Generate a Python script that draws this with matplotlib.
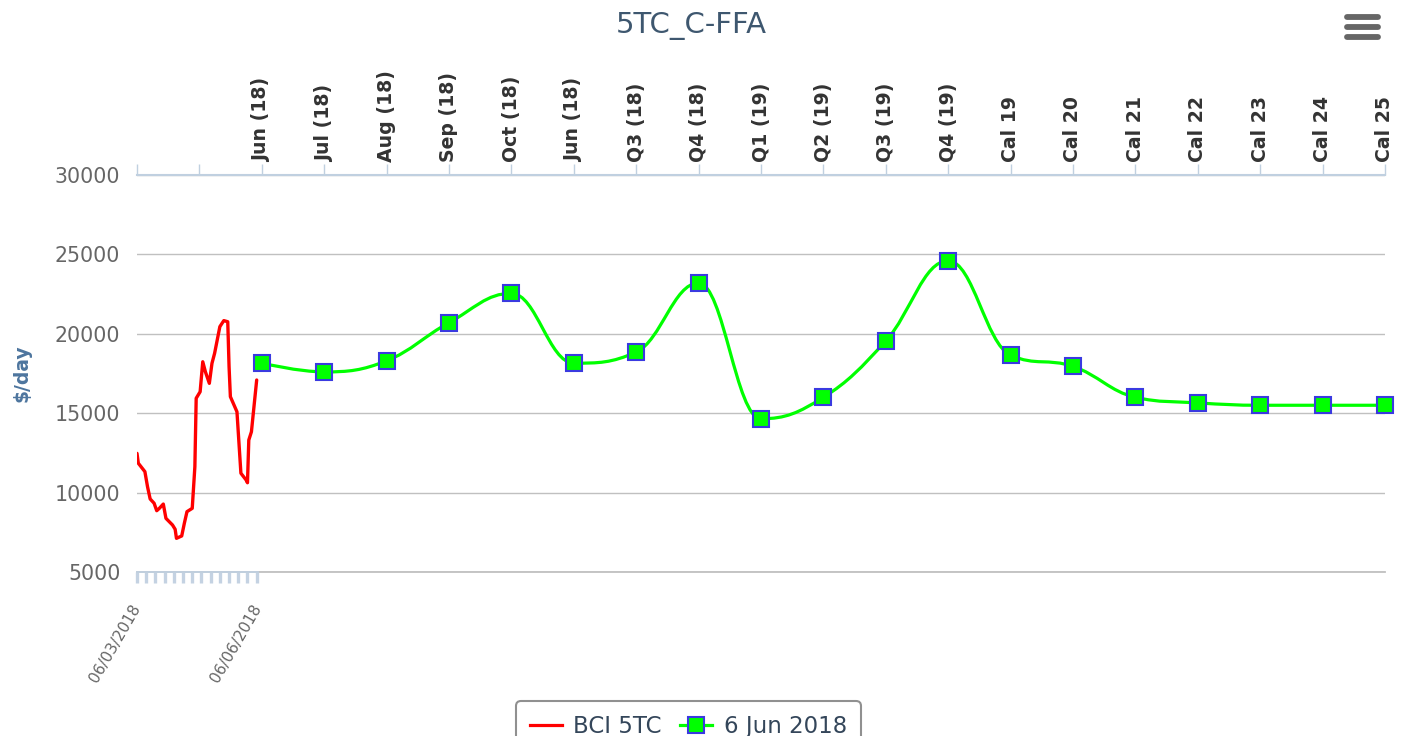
import matplotlib
matplotlib.use('Agg')
import matplotlib.pyplot as plt
import matplotlib.dates as mdates
from matplotlib.path import Path
from matplotlib.patches import PathPatch
from matplotlib.lines import Line2D
from matplotlib.ticker import FixedLocator
import datetime as dt

# ---------------- data ----------------
title = '5TC_C-FFA'
y_label = '$/day'

categories = ['', '', 'Jun (18)', 'Jul (18)', 'Aug (18)', 'Sep (18)', 'Oct (18)',
              'Jun (18)', 'Q3 (18)', 'Q4 (18)', 'Q1 (19)', 'Q2 (19)', 'Q3 (19)',
              'Q4 (19)', 'Cal 19', 'Cal 20', 'Cal 21', 'Cal 22', 'Cal 23',
              'Cal 24', 'Cal 25']
ffa_start_index = 2
ffa_values = [18150, 17600, 18300, 20700, 22550, 18150, 18850, 23200, 14650,
              16000, 19550, 24600, 18650, 17950, 16000, 15650, 15500, 15500, 15500]
ffa_name = '6 Jun 2018'

bci_dates = ['2018-03-06', '2018-03-07', '2018-03-12', '2018-03-14', '2018-03-16',
             '2018-03-19', '2018-03-21', '2018-03-23', '2018-03-26', '2018-03-28',
             '2018-04-02', '2018-04-04', '2018-04-05', '2018-04-09', '2018-04-11',
             '2018-04-13', '2018-04-17', '2018-04-19', '2018-04-20', '2018-04-23',
             '2018-04-25', '2018-04-27', '2018-04-30', '2018-05-02', '2018-05-04',
             '2018-05-08', '2018-05-11', '2018-05-14', '2018-05-15', '2018-05-16',
             '2018-05-21', '2018-05-24', '2018-05-28', '2018-05-29', '2018-05-30',
             '2018-06-01', '2018-06-05']
bci_values = [12470, 11850, 11320, 10370, 9600, 9330, 8860, 9010, 9280, 8380,
              7960, 7690, 7120, 7270, 8070, 8800, 9010, 11630, 15940, 16350,
              18240, 17610, 16880, 18140, 18770, 20450, 20830, 20760, 17930, 16040,
              15090, 11220, 10790, 10620, 13310, 13830, 17090]
bci_name = 'BCI 5TC'
date_axis_labels = ['2018-03-06', '2018-06-06']

y_ticks = [5000, 10000, 15000, 20000, 25000, 30000]

# ---------------- figure ----------------
W, H = 1402, 736
fig = plt.figure(figsize=(W / 100, H / 100), dpi=100)
fig.patch.set_facecolor('white')

left, right, top, bottom = 137, 1385, 175, 572
ax = fig.add_axes([left / W, 1 - bottom / H, (right - left) / W, (bottom - top) / H])
ax.set_facecolor('none')
ax2 = ax.twiny()
ax2.set_facecolor('none')

ax.set_ylim(5000, 30000)
ax.set_xlim(0, len(categories) - 1)
ax.set_yticks(y_ticks)
ax.yaxis.grid(True, color='#c0c0c0', lw=1.0)
ax.axhline(y_ticks[0], color='#c0c0c0', lw=1.3, clip_on=False, zorder=1)
ax.set_axisbelow(True)
for s in ['left', 'right', 'bottom']:
    ax.spines[s].set_visible(False)
ax.spines['top'].set_color('#c0d0e0')
ax.spines['top'].set_linewidth(1.5)
ax.spines['top'].set_zorder(3)

ax.tick_params(axis='y', length=0, pad=12, labelsize=14.8, labelcolor='#666666')
ax.xaxis.tick_top()
ax.set_xticks(range(len(categories)))
ax.set_xticklabels(categories, rotation=90, fontsize=13.6, fontweight='bold', color='#333333')
ax.tick_params(axis='x', top=True, bottom=False, labeltop=True, labelbottom=False,
               length=8, width=1.0, color='#c0d0e0', pad=1)

# spline (Highcharts-style) through the forward curve
xs = list(range(ffa_start_index, ffa_start_index + len(ffa_values)))
ys = ffa_values
smoothing = 1.5
denom = smoothing + 1
n = len(xs)
ctrl = []
for i in range(n):
    px, py = xs[i], ys[i]
    if 0 < i < n - 1:
        lx, ly = xs[i - 1], ys[i - 1]
        nx, ny = xs[i + 1], ys[i + 1]
        lcx = (smoothing * px + lx) / denom
        lcy = (smoothing * py + ly) / denom
        rcx = (smoothing * px + nx) / denom
        rcy = (smoothing * py + ny) / denom
        corr = 0
        if rcx != lcx:
            corr = ((rcy - lcy) * (rcx - px)) / (rcx - lcx) + py - rcy
        lcy += corr
        rcy += corr
        if lcy > ly and lcy > py:
            lcy = max(ly, py); rcy = 2 * py - lcy
        elif lcy < ly and lcy < py:
            lcy = min(ly, py); rcy = 2 * py - lcy
        if rcy > ny and rcy > py:
            rcy = max(ny, py); lcy = 2 * py - rcy
        elif rcy < ny and rcy < py:
            rcy = min(ny, py); lcy = 2 * py - rcy
        ctrl.append(((lcx, lcy), (rcx, rcy)))
    else:
        ctrl.append(((px, py), (px, py)))
verts = [(xs[0], ys[0])]
codes = [Path.MOVETO]
for i in range(1, n):
    verts += [ctrl[i - 1][1], ctrl[i][0], (xs[i], ys[i])]
    codes += [Path.CURVE4] * 3
ax.add_patch(PathPatch(Path(verts, codes), fill=False, edgecolor='#00ff00', lw=2.3,
                       capstyle='round', joinstyle='round', zorder=4))
ax.plot(xs, ys, ls='none', marker='s', ms=11.5, mfc='#00ff00', mec='#3a3ae0', mew=1.5,
        clip_on=False, zorder=5)

# secondary (date) axis at the bottom
ax2.xaxis.tick_bottom()
ax2.xaxis.set_label_position('bottom')
ax2.xaxis.remove_overlapping_locs = False
d0 = mdates.date2num(dt.datetime.strptime(date_axis_labels[0], '%Y-%m-%d'))
d1 = mdates.date2num(dt.datetime.strptime(date_axis_labels[1], '%Y-%m-%d'))
px_span = 121.0
ax2.set_xlim(d0, d0 + (d1 - d0) * (right - left) / px_span)
for s in ['left', 'right', 'top']:
    ax2.spines[s].set_visible(False)
ax2.spines['bottom'].set_bounds(d0, d1)
ax2.spines['bottom'].set_color('#c0d0e0')
ax2.spines['bottom'].set_linewidth(1.3)
ax2.spines['bottom'].set_zorder(2)

bdates = [mdates.date2num(dt.datetime.strptime(d, '%Y-%m-%d')) for d in bci_dates]
ax2.plot(bdates, bci_values, color='#ff0000', lw=2.4, solid_joinstyle='round',
         solid_capstyle='round', zorder=4)

ax2.xaxis.set_major_locator(FixedLocator([d0, d1]))
ax2.xaxis.set_major_formatter(mdates.DateFormatter('%d/%m/%Y'))
ax2.xaxis.set_minor_locator(FixedLocator([d0 + 7 * k for k in range(14)]))
ax2.tick_params(axis='x', which='major', length=0, pad=24, labelsize=11, labelcolor='#666666',
                top=False, labeltop=False, bottom=True, labelbottom=True)
ax2.tick_params(axis='x', which='minor', length=8, width=2.4, color='#c4d2e2',
                top=False, bottom=True)
for lbl in ax2.get_xticklabels():
    lbl.set_rotation(60)
    lbl.set_ha('right')
    lbl.set_va('center')
    lbl.set_rotation_mode('anchor')

# title, y label
fig.text(691 / W, 1 - 33 / H, title, ha='center', va='baseline', fontsize=21,
         color='#3E576F')
fig.text(22 / W, 1 - 373 / H, y_label, ha='center', va='center', rotation=90,
         fontsize=13.5, fontweight='bold', color='#4d759e')

# menu icon
for yy in [17, 27, 37]:
    fig.add_artist(Line2D([1347 / W, 1378 / W], [1 - yy / H, 1 - yy / H],
                          transform=fig.transFigure, color='#666666', lw=4.2,
                          solid_capstyle='round'))

# legend
handles = [Line2D([], [], color='#ff0000', lw=2.3),
           Line2D([], [], color='#00ff00', lw=2.3, marker='s', ms=11, mfc='#00ff00',
                  mec='#3a3ae0', mew=1.5)]
leg = fig.legend(handles, [bci_name, ffa_name], loc='upper center',
                 bbox_to_anchor=(688.5 / W, 1 - 690 / H), ncol=2, fontsize=16.5,
                 frameon=True, fancybox=True, edgecolor='#909090',
                 handlelength=1.4, handletextpad=0.5, columnspacing=0.8,
                 borderpad=0.6, labelcolor='#34465a')
leg.get_frame().set_linewidth(1.5)
leg.get_frame().set_alpha(1)

fig.savefig('out.png', dpi=100, facecolor='white')
